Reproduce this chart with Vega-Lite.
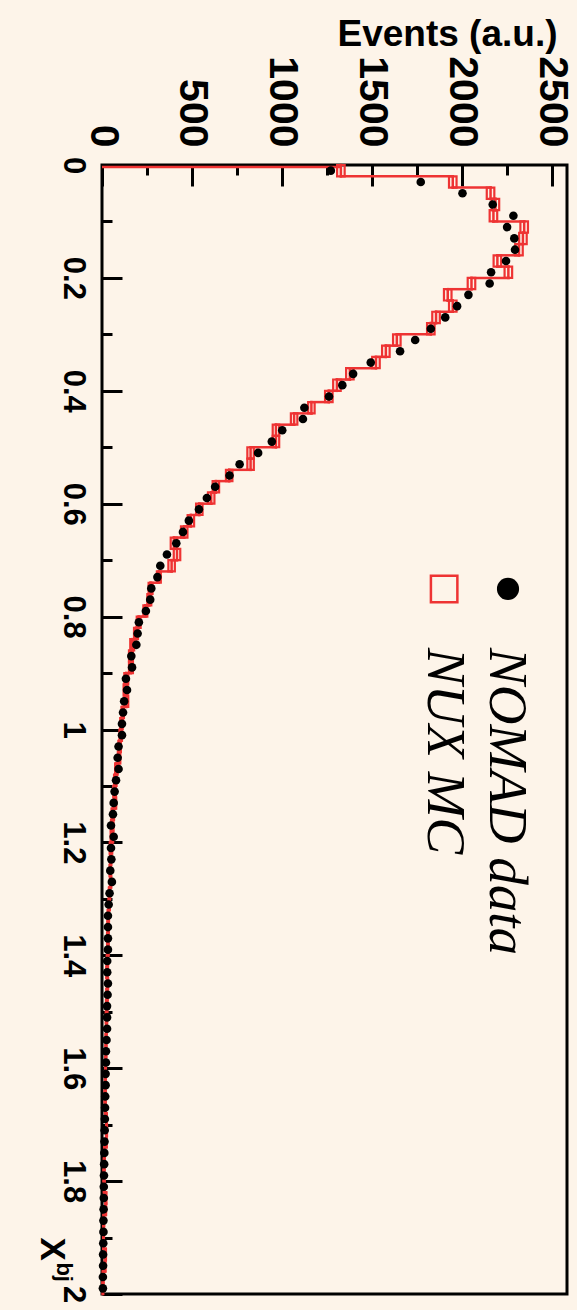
{
  "$schema": "https://vega.github.io/schema/vega-lite/v6.json",
  "width": 465,
  "height": 1129,
  "autosize": {"type": "none"},
  "padding": {"left": 102, "top": 165, "right": 10, "bottom": 16},
  "background": "#fdf4e9",
  "config": {
    "view": {"stroke": "#000000", "strokeWidth": 3, "fill": "#fdf4e9"},
    "axis": {"domain": false, "grid": false, "labelColor": "#000000", "titleColor": "#000000", "tickColor": "#000000"}
  },
  "data": {
    "values": [
      {"lo": 0, "hi": 0.02, "xbj": 0.01, "nomad": 1272, "nux": 1328, "mclo": 1307, "mchi": 1349},
      {"lo": 0.02, "hi": 0.04, "xbj": 0.03, "nomad": 1772, "nux": 1950, "mclo": 1929, "mchi": 1971},
      {"lo": 0.04, "hi": 0.06, "xbj": 0.05, "nomad": 2004, "nux": 2160, "mclo": 2139, "mchi": 2181},
      {"lo": 0.06, "hi": 0.08, "xbj": 0.07, "nomad": 2172, "nux": 2187, "mclo": 2166, "mchi": 2208},
      {"lo": 0.08, "hi": 0.1, "xbj": 0.09, "nomad": 2287, "nux": 2176, "mclo": 2155, "mchi": 2197},
      {"lo": 0.1, "hi": 0.12, "xbj": 0.11, "nomad": 2252, "nux": 2347, "mclo": 2326, "mchi": 2368},
      {"lo": 0.12, "hi": 0.14, "xbj": 0.13, "nomad": 2292, "nux": 2340, "mclo": 2319, "mchi": 2361},
      {"lo": 0.14, "hi": 0.16, "xbj": 0.15, "nomad": 2296, "nux": 2318, "mclo": 2297, "mchi": 2339},
      {"lo": 0.16, "hi": 0.18, "xbj": 0.17, "nomad": 2246, "nux": 2198, "mclo": 2177, "mchi": 2219},
      {"lo": 0.18, "hi": 0.2, "xbj": 0.19, "nomad": 2163, "nux": 2259, "mclo": 2238, "mchi": 2280},
      {"lo": 0.2, "hi": 0.22, "xbj": 0.21, "nomad": 2155, "nux": 2054, "mclo": 2033, "mchi": 2075},
      {"lo": 0.22, "hi": 0.24, "xbj": 0.23, "nomad": 2037, "nux": 1922, "mclo": 1901, "mchi": 1943},
      {"lo": 0.24, "hi": 0.26, "xbj": 0.25, "nomad": 1974, "nux": 1950, "mclo": 1929, "mchi": 1971},
      {"lo": 0.26, "hi": 0.28, "xbj": 0.27, "nomad": 1908, "nux": 1857, "mclo": 1836, "mchi": 1878},
      {"lo": 0.28, "hi": 0.3, "xbj": 0.29, "nomad": 1828, "nux": 1828, "mclo": 1807, "mchi": 1849},
      {"lo": 0.3, "hi": 0.32, "xbj": 0.31, "nomad": 1741, "nux": 1639, "mclo": 1618, "mchi": 1660},
      {"lo": 0.32, "hi": 0.34, "xbj": 0.33, "nomad": 1657, "nux": 1578, "mclo": 1557, "mchi": 1599},
      {"lo": 0.34, "hi": 0.36, "xbj": 0.35, "nomad": 1494, "nux": 1523, "mclo": 1502, "mchi": 1544},
      {"lo": 0.36, "hi": 0.38, "xbj": 0.37, "nomad": 1396, "nux": 1378, "mclo": 1357, "mchi": 1399},
      {"lo": 0.38, "hi": 0.4, "xbj": 0.39, "nomad": 1336, "nux": 1306, "mclo": 1285, "mchi": 1327},
      {"lo": 0.4, "hi": 0.42, "xbj": 0.41, "nomad": 1262, "nux": 1261, "mclo": 1240, "mchi": 1282},
      {"lo": 0.42, "hi": 0.44, "xbj": 0.43, "nomad": 1125, "nux": 1164, "mclo": 1146, "mchi": 1182},
      {"lo": 0.44, "hi": 0.46, "xbj": 0.45, "nomad": 1117, "nux": 1068, "mclo": 1050, "mchi": 1086},
      {"lo": 0.46, "hi": 0.48, "xbj": 0.47, "nomad": 1002, "nux": 967, "mclo": 949, "mchi": 985},
      {"lo": 0.48, "hi": 0.5, "xbj": 0.49, "nomad": 944, "nux": 967, "mclo": 949, "mchi": 985},
      {"lo": 0.5, "hi": 0.52, "xbj": 0.51, "nomad": 868, "nux": 826, "mclo": 808, "mchi": 844},
      {"lo": 0.52, "hi": 0.54, "xbj": 0.53, "nomad": 765, "nux": 826, "mclo": 808, "mchi": 844},
      {"lo": 0.54, "hi": 0.56, "xbj": 0.55, "nomad": 709, "nux": 707, "mclo": 689, "mchi": 725},
      {"lo": 0.56, "hi": 0.58, "xbj": 0.57, "nomad": 629, "nux": 633, "mclo": 615, "mchi": 651},
      {"lo": 0.58, "hi": 0.6, "xbj": 0.59, "nomad": 583, "nux": 607, "mclo": 589, "mchi": 625},
      {"lo": 0.6, "hi": 0.62, "xbj": 0.61, "nomad": 539, "nux": 541, "mclo": 523, "mchi": 559},
      {"lo": 0.62, "hi": 0.64, "xbj": 0.63, "nomad": 483, "nux": 494, "mclo": 476, "mchi": 512},
      {"lo": 0.64, "hi": 0.66, "xbj": 0.65, "nomad": 450, "nux": 457, "mclo": 439, "mchi": 475},
      {"lo": 0.66, "hi": 0.68, "xbj": 0.67, "nomad": 413, "nux": 400, "mclo": 382, "mchi": 418},
      {"lo": 0.68, "hi": 0.7, "xbj": 0.69, "nomad": 361, "nux": 417, "mclo": 399, "mchi": 435},
      {"lo": 0.7, "hi": 0.72, "xbj": 0.71, "nomad": 324, "nux": 387, "mclo": 369, "mchi": 405},
      {"lo": 0.72, "hi": 0.74, "xbj": 0.73, "nomad": 308, "nux": 316, "mclo": 305, "mchi": 327},
      {"lo": 0.74, "hi": 0.76, "xbj": 0.75, "nomad": 274, "nux": 270, "mclo": 259, "mchi": 281},
      {"lo": 0.76, "hi": 0.78, "xbj": 0.77, "nomad": 268, "nux": 263, "mclo": 252, "mchi": 274},
      {"lo": 0.78, "hi": 0.8, "xbj": 0.79, "nomad": 244, "nux": 241, "mclo": 230, "mchi": 252},
      {"lo": 0.8, "hi": 0.82, "xbj": 0.81, "nomad": 205, "nux": 204, "mclo": 193, "mchi": 215},
      {"lo": 0.82, "hi": 0.84, "xbj": 0.83, "nomad": 198, "nux": 189, "mclo": 178, "mchi": 200},
      {"lo": 0.84, "hi": 0.86, "xbj": 0.85, "nomad": 191, "nux": 168, "mclo": 157, "mchi": 179},
      {"lo": 0.86, "hi": 0.88, "xbj": 0.87, "nomad": 163, "nux": 161, "mclo": 150, "mchi": 172},
      {"lo": 0.88, "hi": 0.9, "xbj": 0.89, "nomad": 167, "nux": 161, "mclo": 150, "mchi": 172},
      {"lo": 0.9, "hi": 0.92, "xbj": 0.91, "nomad": 133, "nux": 135, "mclo": 124, "mchi": 146},
      {"lo": 0.92, "hi": 0.94, "xbj": 0.93, "nomad": 139, "nux": 131, "mclo": 120, "mchi": 142},
      {"lo": 0.94, "hi": 0.96, "xbj": 0.95, "nomad": 123, "nux": 135, "mclo": 124, "mchi": 146},
      {"lo": 0.96, "hi": 0.98, "xbj": 0.97, "nomad": 117, "nux": 115, "mclo": 108, "mchi": 122},
      {"lo": 0.98, "hi": 1.0, "xbj": 0.99, "nomad": 111, "nux": 108, "mclo": 101, "mchi": 115},
      {"lo": 1.0, "hi": 1.02, "xbj": 1.01, "nomad": 111, "nux": 104, "mclo": 97, "mchi": 111},
      {"lo": 1.02, "hi": 1.04, "xbj": 1.03, "nomad": 92, "nux": 98, "mclo": 91, "mchi": 105},
      {"lo": 1.04, "hi": 1.06, "xbj": 1.05, "nomad": 87, "nux": 95, "mclo": 88, "mchi": 102},
      {"lo": 1.06, "hi": 1.08, "xbj": 1.07, "nomad": 92, "nux": 80, "mclo": 73, "mchi": 87},
      {"lo": 1.08, "hi": 1.1, "xbj": 1.09, "nomad": 78, "nux": 74, "mclo": 67, "mchi": 81},
      {"lo": 1.1, "hi": 1.12, "xbj": 1.11, "nomad": 70, "nux": 70, "mclo": 63, "mchi": 77},
      {"lo": 1.12, "hi": 1.14, "xbj": 1.13, "nomad": 65, "nux": 72, "mclo": 65, "mchi": 79},
      {"lo": 1.14, "hi": 1.16, "xbj": 1.15, "nomad": 61, "nux": 60, "mclo": 53, "mchi": 67},
      {"lo": 1.16, "hi": 1.18, "xbj": 1.17, "nomad": 50, "nux": 57, "mclo": 50, "mchi": 64},
      {"lo": 1.18, "hi": 1.2, "xbj": 1.19, "nomad": 65, "nux": 55, "mclo": 48, "mchi": 62},
      {"lo": 1.2, "hi": 1.22, "xbj": 1.21, "nomad": 50, "nux": 50, "mclo": 43, "mchi": 57},
      {"lo": 1.22, "hi": 1.24, "xbj": 1.23, "nomad": 52, "nux": 48, "mclo": 44, "mchi": 52},
      {"lo": 1.24, "hi": 1.26, "xbj": 1.25, "nomad": 46, "nux": 46, "mclo": 42, "mchi": 50},
      {"lo": 1.26, "hi": 1.28, "xbj": 1.27, "nomad": 55, "nux": 48, "mclo": 44, "mchi": 52},
      {"lo": 1.28, "hi": 1.3, "xbj": 1.29, "nomad": 42, "nux": 42, "mclo": 38, "mchi": 46},
      {"lo": 1.3, "hi": 1.32, "xbj": 1.31, "nomad": 37, "nux": 40, "mclo": 36, "mchi": 44},
      {"lo": 1.32, "hi": 1.34, "xbj": 1.33, "nomad": 33, "nux": 35, "mclo": 31, "mchi": 39},
      {"lo": 1.34, "hi": 1.36, "xbj": 1.35, "nomad": 33, "nux": 34, "mclo": 30, "mchi": 38},
      {"lo": 1.36, "hi": 1.38, "xbj": 1.37, "nomad": 33, "nux": 32, "mclo": 28, "mchi": 36},
      {"lo": 1.38, "hi": 1.4, "xbj": 1.39, "nomad": 33, "nux": 33, "mclo": 29, "mchi": 37},
      {"lo": 1.4, "hi": 1.42, "xbj": 1.41, "nomad": 29, "nux": 30, "mclo": 26, "mchi": 34},
      {"lo": 1.42, "hi": 1.44, "xbj": 1.43, "nomad": 29, "nux": 28, "mclo": 24, "mchi": 32},
      {"lo": 1.44, "hi": 1.46, "xbj": 1.45, "nomad": 33, "nux": 30, "mclo": 26, "mchi": 34},
      {"lo": 1.46, "hi": 1.48, "xbj": 1.47, "nomad": 31, "nux": 28, "mclo": 24, "mchi": 32},
      {"lo": 1.48, "hi": 1.5, "xbj": 1.49, "nomad": 28, "nux": 26, "mclo": 22, "mchi": 30},
      {"lo": 1.5, "hi": 1.52, "xbj": 1.51, "nomad": 28, "nux": 25, "mclo": 21, "mchi": 29},
      {"lo": 1.52, "hi": 1.54, "xbj": 1.53, "nomad": 28, "nux": 24, "mclo": 22, "mchi": 26},
      {"lo": 1.54, "hi": 1.56, "xbj": 1.55, "nomad": 25, "nux": 22, "mclo": 20, "mchi": 24},
      {"lo": 1.56, "hi": 1.58, "xbj": 1.57, "nomad": 22, "nux": 22, "mclo": 20, "mchi": 24},
      {"lo": 1.58, "hi": 1.6, "xbj": 1.59, "nomad": 22, "nux": 20, "mclo": 18, "mchi": 22},
      {"lo": 1.6, "hi": 1.62, "xbj": 1.61, "nomad": 20, "nux": 19, "mclo": 17, "mchi": 21},
      {"lo": 1.62, "hi": 1.64, "xbj": 1.63, "nomad": 20, "nux": 18, "mclo": 16, "mchi": 20},
      {"lo": 1.64, "hi": 1.66, "xbj": 1.65, "nomad": 18, "nux": 17, "mclo": 15, "mchi": 19},
      {"lo": 1.66, "hi": 1.68, "xbj": 1.67, "nomad": 17, "nux": 18, "mclo": 16, "mchi": 20},
      {"lo": 1.68, "hi": 1.7, "xbj": 1.69, "nomad": 16, "nux": 25, "mclo": 23, "mchi": 27},
      {"lo": 1.7, "hi": 1.72, "xbj": 1.71, "nomad": 15, "nux": 26, "mclo": 24, "mchi": 28},
      {"lo": 1.72, "hi": 1.74, "xbj": 1.73, "nomad": 14, "nux": 24, "mclo": 22, "mchi": 26},
      {"lo": 1.74, "hi": 1.76, "xbj": 1.75, "nomad": 13, "nux": 14, "mclo": 12, "mchi": 16},
      {"lo": 1.76, "hi": 1.78, "xbj": 1.77, "nomad": 12, "nux": 12, "mclo": 10, "mchi": 14},
      {"lo": 1.78, "hi": 1.8, "xbj": 1.79, "nomad": 11, "nux": 11, "mclo": 9, "mchi": 13},
      {"lo": 1.8, "hi": 1.82, "xbj": 1.81, "nomad": 10, "nux": 12, "mclo": 10, "mchi": 14},
      {"lo": 1.82, "hi": 1.84, "xbj": 1.83, "nomad": 10, "nux": 22, "mclo": 20, "mchi": 24},
      {"lo": 1.84, "hi": 1.86, "xbj": 1.85, "nomad": 9, "nux": 21, "mclo": 19, "mchi": 23},
      {"lo": 1.86, "hi": 1.88, "xbj": 1.87, "nomad": 8, "nux": 10, "mclo": 8, "mchi": 12},
      {"lo": 1.88, "hi": 1.9, "xbj": 1.89, "nomad": 8, "nux": 9, "mclo": 7, "mchi": 11},
      {"lo": 1.9, "hi": 1.92, "xbj": 1.91, "nomad": 7, "nux": 8, "mclo": 6, "mchi": 10},
      {"lo": 1.92, "hi": 1.94, "xbj": 1.93, "nomad": 6, "nux": 20, "mclo": 18, "mchi": 22},
      {"lo": 1.94, "hi": 1.96, "xbj": 1.95, "nomad": 6, "nux": 17, "mclo": 15, "mchi": 19},
      {"lo": 1.96, "hi": 1.98, "xbj": 1.97, "nomad": 5, "nux": 6, "mclo": 4, "mchi": 8},
      {"lo": 1.98, "hi": 2.0, "xbj": 1.99, "nomad": 5, "nux": 5, "mclo": 3, "mchi": 7}
    ]
  },
  "layer": [
    {
      "mark": {"type": "rule", "color": "#ee3333", "strokeWidth": 2.5, "strokeCap": "square"},
      "encoding": {
        "x": {
          "field": "nux", "type": "quantitative",
          "scale": {"domain": [0, 2585], "nice": false, "zero": false},
          "axis": {
            "orient": "top",
            "values": [0, 250, 500, 750, 1000, 1250, 1500, 1750, 2000, 2250, 2500],
            "format": "d",
            "labelExpr": "datum.value % 500 === 0 ? datum.label : ''",
            "labelAngle": 90, "labelAlign": "right", "labelBaseline": "middle",
            "labelFont": "Liberation Sans", "labelFontWeight": "bold", "labelFontSize": 41,
            "labelPadding": 39, "labelOverlap": false, "labelBound": false, "labelFlush": false,
            "tickWidth": 3,
            "tickSize": {"condition": {"test": "datum.value % 500 === 0", "value": -21}, "value": -10},
            "title": "Events (a.u.)",
            "titleFont": "Liberation Sans", "titleFontWeight": "bold", "titleFontSize": 37,
            "titleAngle": 0, "titleAlign": "right", "titleBaseline": "alphabetic",
            "titleX": 455, "titleY": -120
          }
        },
        "y": {
          "field": "lo", "type": "quantitative",
          "scale": {"domain": [0, 2], "reverse": true, "nice": false, "zero": false},
          "axis": {
            "orient": "left",
            "values": [0, 0.05, 0.1, 0.15, 0.2, 0.25, 0.3, 0.35, 0.4, 0.45, 0.5, 0.55, 0.6, 0.65, 0.7, 0.75, 0.8, 0.85, 0.9, 0.95, 1, 1.05, 1.1, 1.15, 1.2, 1.25, 1.3, 1.35, 1.4, 1.45, 1.5, 1.55, 1.6, 1.65, 1.7, 1.75, 1.8, 1.85, 1.9, 1.95, 2],
            "labelExpr": "abs(datum.value * 5 - round(datum.value * 5)) < 1e-6 ? format(datum.value, '~g') : ''",
            "labelAngle": 90, "labelAlign": "center", "labelBaseline": "top",
            "labelFont": "Liberation Sans", "labelFontWeight": "bold", "labelFontSize": 31,
            "labelPadding": 35, "labelOverlap": false, "labelBound": false, "labelFlush": false,
            "tickWidth": 3,
            "tickSize": {"condition": {"test": "abs(datum.value * 5 - round(datum.value * 5)) < 1e-6", "value": -20}, "value": -10},
            "title": "X",
            "titleFont": "Liberation Sans", "titleFontWeight": "bold", "titleFontSize": 35,
            "titleAngle": 90, "titleAlign": "left", "titleBaseline": "alphabetic",
            "titleX": -62, "titleY": 1072
          }
        },
        "y2": {"field": "hi"}
      }
    },
    {
      "transform": [
        {"window": [{"op": "lag", "field": "nux", "as": "prev"}], "sort": [{"field": "lo"}]}
      ],
      "mark": {"type": "rule", "color": "#ee3333", "strokeWidth": 2.5, "strokeCap": "square"},
      "encoding": {
        "x": {"field": "prev", "type": "quantitative"},
        "x2": {"field": "nux"},
        "y": {"field": "lo", "type": "quantitative"}
      }
    },
    {
      "transform": [{"filter": "datum.lo === 0"}],
      "mark": {"type": "rule", "color": "#ee3333", "strokeWidth": 2.5, "strokeCap": "butt", "yOffset": 2},
      "encoding": {
        "x": {"field": "nux", "type": "quantitative"},
        "x2": {"datum": 0},
        "y": {"field": "lo", "type": "quantitative"}
      }
    },
    {
      "mark": {"type": "rect", "filled": false, "stroke": "#ee3333", "strokeWidth": 2.2},
      "encoding": {
        "x": {"field": "mclo", "type": "quantitative"},
        "x2": {"field": "mchi"},
        "y": {"field": "lo", "type": "quantitative"},
        "y2": {"field": "hi"}
      }
    },
    {
      "mark": {"type": "circle", "color": "#000000", "size": 74, "opacity": 1},
      "encoding": {
        "x": {"field": "nomad", "type": "quantitative"},
        "y": {"field": "xbj", "type": "quantitative"}
      }
    },
    {
      "data": {"values": [{"series": "NOMAD data"}]},
      "mark": {"type": "circle", "color": "#000000", "size": 490, "opacity": 1},
      "encoding": {
        "x": {"datum": 2257, "type": "quantitative"},
        "y": {"datum": 0.751, "type": "quantitative"}
      }
    },
    {
      "data": {"values": [{"series": "NUX MC"}]},
      "mark": {"type": "point", "shape": "square", "filled": false, "color": "#ee3333", "strokeWidth": 2.5, "size": 700, "opacity": 1},
      "encoding": {
        "x": {"datum": 1902, "type": "quantitative"},
        "y": {"datum": 0.751, "type": "quantitative"}
      }
    },
    {
      "data": {"values": [{"series": "NOMAD data", "at": 2157}, {"series": "NUX MC", "at": 1813}]},
      "mark": {"type": "text", "angle": 90, "align": "left", "baseline": "alphabetic", "font": "Liberation Serif", "fontStyle": "italic", "fontSize": 55, "color": "#000000"},
      "encoding": {
        "x": {"field": "at", "type": "quantitative"},
        "y": {"datum": 0.8557, "type": "quantitative"},
        "text": {"field": "series"}
      }
    },
    {
      "data": {"values": [{"sub": "bj"}]},
      "mark": {"type": "text", "angle": 90, "align": "left", "baseline": "alphabetic", "font": "Liberation Sans", "fontWeight": "bold", "fontSize": 22, "color": "#000000"},
      "encoding": {
        "x": {"datum": -250, "type": "quantitative"},
        "y": {"datum": 1.944, "type": "quantitative"},
        "text": {"field": "sub"}
      }
    }
  ]
}
